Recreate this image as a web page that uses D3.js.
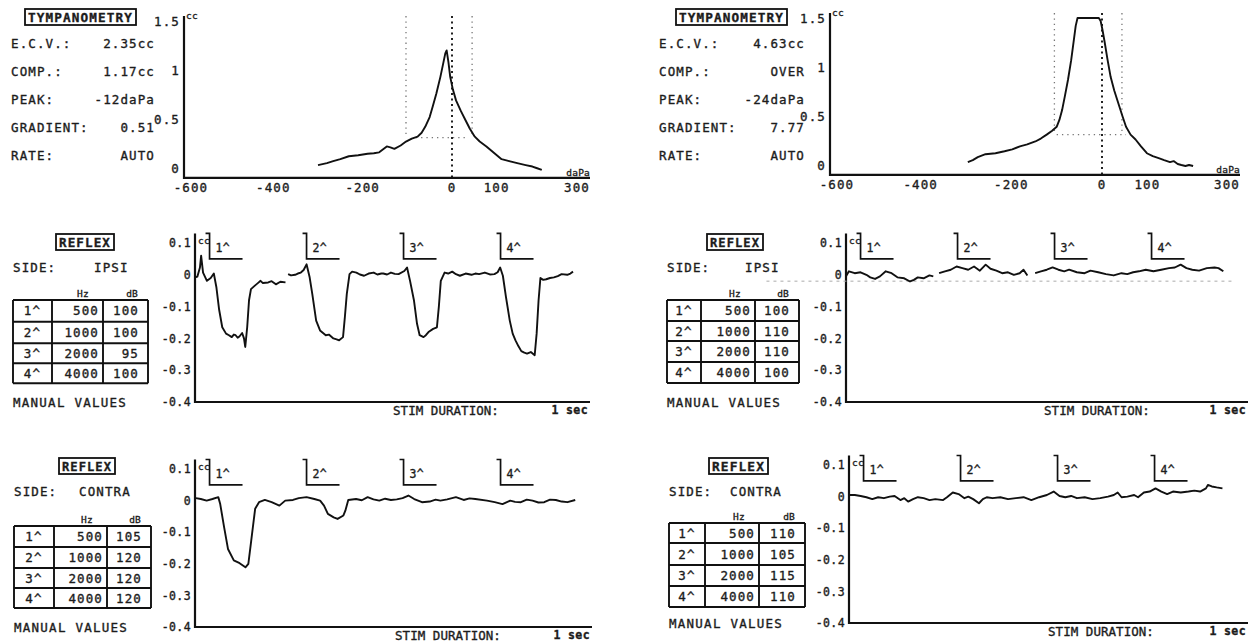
<!DOCTYPE html>
<html lang="en">
<head>
<meta charset="UTF-8">
<title>Tympanometry / Reflex printout</title>
<style>
  html, body { margin: 0; background: #fff; }
  svg { display: block; }
  text { font-family: "DejaVu Sans Mono", "Liberation Mono", monospace; fill: #1c1c1c; stroke: #1c1c1c; stroke-width: 0.35px; font-size: 12.5px; letter-spacing: 1.1px; }
  .tick { font-size: 11.5px; letter-spacing: 0.4px; }
  .small { font-size: 9.5px; letter-spacing: 0.2px; }
  .axis { stroke: #111; stroke-width: 2.2; fill: none; }
  .trace { stroke: #111; stroke-width: 1.9; fill: none; stroke-linejoin: round; }
  .grid { stroke: #111; stroke-width: 1.9; }
  .dot { stroke: #777; stroke-width: 1.3; stroke-dasharray: 1.3 4; fill: none; }
  .dot0 { stroke: #222; stroke-width: 2; stroke-dasharray: 2 3.5; fill: none; }
  .noise { stroke: #aaa; stroke-width: 1; stroke-dasharray: 3 4; fill: none; }
</style>
</head>
<body>
<svg id="chart" width="1250" height="641"></svg>
<script src="https://d3js.org/d3.v7.min.js"></script>
<script>
// ---- data ----
const tympTicksX = [-600, -400, -200, 0, 100, 300];
const tympTicksY = [0, 0.5, 1, 1.5];
const reflexTicksY = [0.1, 0, -0.1, -0.2, -0.3, -0.4];
const infoLabels = ["E.C.V.:", "COMP.:", "PEAK:", "GRADIENT:", "RATE:"];
const leftInfo = ["2.35cc", "1.17cc", "-12daPa", "0.51", "AUTO"];
const rightInfo = ["4.63cc", "OVER", "-24daPa", "7.77", "AUTO"];
const stimLabels = ["1^", "2^", "3^", "4^"];
const stimOnsets = [0.15, 1.15, 2.15, 3.15];
const freqs = [500, 1000, 2000, 4000];
const leftIpsiDb = [100, 100, 95, 100];
const leftContraDb = [105, 120, 120, 120];
const rightIpsiDb = [100, 110, 110, 100];
const rightContraDb = [110, 105, 115, 110];

// tympanograms: [daPa, cc]
const leftTymp = [[-300,0.03],[-280,0.05],[-266,0.07],[-250,0.09],[-231,0.12],[-210,0.13],[-189,0.145],[-175,0.15],[-163,0.16],[-146,0.22],[-138,0.21],[-129,0.195],[-115,0.23],[-103,0.27],[-90,0.3],[-77,0.32],[-68,0.36],[-60,0.42],[-50,0.52],[-43,0.63],[-35,0.76],[-26,0.93],[-20,1.06],[-15,1.17],[-12,1.2],[-8,1.08],[-4,0.93],[2,0.8],[9,0.69],[20,0.58],[30,0.49],[40,0.4],[51,0.32],[62,0.27],[77,0.22],[95,0.15],[111,0.09],[128,0.07],[146,0.05],[165,0.03],[180,0.015],[189,0.0],[201,-0.02]];
const rightTymp = [[-296,0.03],[-285,0.05],[-274,0.08],[-257,0.11],[-235,0.12],[-215,0.14],[-198,0.16],[-181,0.19],[-165,0.21],[-147,0.24],[-135,0.27],[-122,0.31],[-110,0.35],[-100,0.39],[-94,0.46],[-88,0.56],[-82,0.7],[-75,0.87],[-68,1.07],[-62,1.28],[-58,1.42],[-54,1.5],[-7,1.5],[-3,1.47],[1,1.38],[6,1.25],[12,1.08],[19,0.9],[27,0.76],[36,0.63],[45,0.5],[53,0.39],[63,0.31],[74,0.26],[86,0.19],[99,0.12],[112,0.09],[125,0.07],[137,0.05],[150,0.03],[158,0.04],[167,0.01],[175,0.0],[184,-0.01],[192,0.0],[201,-0.01]];
const leftGuides = [-103, 45], leftLevel = 0.31, leftLevelSpan = [-81, 30];
const rightGuides = [-105, 44], rightLevel = 0.31, rightLevelSpan = [-100, 53];

// reflex traces: [time (s), cc], split where the pen lifted
const leftIpsi = [
  [[0.004,-0.008],[0.024,-0.006],[0.051,0.023],[0.063,0.06],[0.083,0.007],[0.123,-0.019],[0.162,-0.01],[0.194,0.004],[0.221,-0.04],[0.249,-0.11],[0.281,-0.165],[0.32,-0.185],[0.35,-0.19],[0.379,-0.196],[0.40,-0.188],[0.419,-0.19],[0.44,-0.198],[0.458,-0.194],[0.486,-0.183],[0.505,-0.2],[0.518,-0.227],[0.538,-0.165],[0.557,-0.08],[0.577,-0.045],[0.617,-0.034],[0.645,-0.027],[0.676,-0.019],[0.70,-0.026],[0.755,-0.024],[0.79,-0.02],[0.834,-0.03],[0.88,-0.022],[0.933,-0.024]],
  [[0.96,0.002],[0.99,-0.002],[1.032,0],[1.06,0.004],[1.091,0.007],[1.12,0.015],[1.15,0.033],[1.182,-0.008],[1.209,-0.06],[1.249,-0.144],[1.289,-0.175],[1.32,-0.183],[1.348,-0.19],[1.38,-0.188],[1.427,-0.2],[1.46,-0.203],[1.486,-0.206],[1.526,-0.196],[1.545,-0.133],[1.565,-0.06],[1.593,0.002],[1.62,0.01],[1.664,0.007],[1.70,0.001],[1.743,-0.003],[1.79,0.004],[1.842,0.007],[1.88,0.001],[1.921,0.004],
   [1.941,0.004],[1.98,0.001],[2.02,0.007],[2.06,0.003],[2.099,0.002],[2.158,0.012],[2.186,0.023],[2.217,-0.019],[2.257,-0.08],[2.289,-0.154],[2.316,-0.19],[2.356,-0.196],[2.38,-0.19],[2.407,-0.18],[2.455,-0.17],[2.494,-0.165],[2.514,-0.1],[2.534,-0.019],[2.573,0.007],[2.61,0.004],[2.652,0.01],[2.69,0.002],[2.731,-0.003],[2.79,0.004],[2.85,0],[2.89,0.004],[2.929,0.002],
   [2.988,0.007],[3.04,0.001],[3.087,0.002],[3.12,0.008],[3.146,0.023],[3.174,-0.003],[3.206,-0.07],[3.245,-0.144],[3.275,-0.185],[3.304,-0.206],[3.335,-0.225],[3.364,-0.24],[3.395,-0.245],[3.423,-0.248],[3.462,-0.243],[3.502,-0.253],[3.522,-0.185],[3.542,-0.08],[3.561,-0.01],[3.59,-0.016],[3.621,-0.014],[3.66,-0.01],[3.70,-0.008],[3.74,-0.004],[3.779,0.002],[3.838,0],[3.87,0.004],[3.897,0.01]]
];
const leftContra = [
  [[0.01,0.008],[0.06,0.005],[0.12,0],[0.18,0.005],[0.24,0.011],[0.26,-0.011],[0.30,-0.084],[0.34,-0.153],[0.40,-0.189],[0.46,-0.198],[0.52,-0.211],[0.55,-0.2],[0.58,-0.126],[0.62,-0.026],[0.66,-0.005],[0.72,0.002],[0.79,-0.005],[0.87,-0.016],[0.93,0],[1.01,0.002],[1.07,0.008],[1.15,0.011],[1.23,0.005],[1.29,0],[1.33,-0.016],[1.37,-0.042],[1.43,-0.053],[1.47,-0.058],[1.53,-0.047],[1.55,-0.032],[1.58,0.002],[1.66,0.005],[1.72,0.001],[1.78,0.011],[1.84,0.004],[1.90,0],[1.96,0.006],[2.02,0.002],[2.08,0.004],[2.14,0.008],[2.20,0.016],[2.26,0.005],[2.34,-0.005],[2.42,-0.003],[2.48,0.003],[2.53,0],[2.60,0.004],[2.69,0.011],[2.77,0.002],[2.83,0.007],[2.89,0.005],[3.01,0],[3.09,-0.005],[3.17,-0.011],[3.25,0],[3.30,-0.004],[3.36,-0.005],[3.42,0.003],[3.48,0],[3.54,-0.006],[3.60,-0.005],[3.66,0.003],[3.72,0.002],[3.78,-0.003],[3.84,-0.005],[3.92,0.002]]
];
const rightIpsi = [
  [[0,-0.005],[0.03,0.011],[0.09,0.005],[0.15,0.008],[0.21,0],[0.25,-0.008],[0.30,-0.013],[0.35,-0.005],[0.41,0.011],[0.47,0.005],[0.53,-0.008],[0.60,-0.011],[0.66,-0.021],[0.70,-0.016],[0.74,-0.008],[0.80,-0.011],[0.86,-0.002],[0.90,-0.005]],
  [[0.96,0.005],[1.02,0.011],[1.08,0.016],[1.14,0.026],[1.20,0.021],[1.26,0.016],[1.32,0.026],[1.38,0.013],[1.44,0.032],[1.49,0.019],[1.55,0.013],[1.61,0.005],[1.67,0.008],[1.73,0],[1.79,0.005],[1.83,0.016],[1.87,-0.002]],
  [[1.95,0.005],[2.01,0.011],[2.07,0.016],[2.13,0.023],[2.19,0.016],[2.25,0.011],[2.30,0.016],[2.38,0.008],[2.46,0.005],[2.52,0.013],[2.60,0.008],[2.68,0.002],[2.76,-0.002],[2.84,0.005],[2.90,0.002],[2.96,0.008],[3.02,0.011],[3.09,0.016],[3.17,0.011],[3.25,0.016],[3.33,0.021],[3.39,0.023],[3.45,0.032],[3.51,0.021],[3.57,0.016],[3.64,0.013],[3.72,0.021],[3.80,0.023],[3.84,0.021],[3.89,0.011]]
];
const rightContra = [
  [[0.01,0.005],[0.06,0.005],[0.12,0.002],[0.18,-0.002],[0.24,-0.008],[0.30,-0.002],[0.36,-0.005],[0.42,0],[0.47,0.002],[0.53,-0.011],[0.57,-0.005],[0.61,-0.016],[0.66,-0.008],[0.71,-0.002],[0.77,-0.005],[0.83,-0.011],[0.89,-0.008],[0.97,-0.011],[1.01,-0.002],[1.07,0.013],[1.13,0.008],[1.19,-0.005],[1.23,0],[1.28,-0.008],[1.34,-0.021],[1.38,-0.008],[1.42,-0.002],[1.48,-0.005],[1.56,-0.002],[1.64,-0.008],[1.72,-0.005],[1.80,-0.002],[1.88,-0.011],[1.96,-0.002],[2.04,0.005],[2.11,0.016],[2.17,0.002],[2.23,-0.002],[2.29,0.002],[2.35,-0.005],[2.43,-0.002],[2.51,-0.008],[2.59,-0.005],[2.67,0],[2.73,0.005],[2.77,0.013],[2.81,-0.002],[2.87,0],[2.94,0.005],[2.98,-0.002],[3.04,0.013],[3.10,0.016],[3.16,0.026],[3.22,0.016],[3.28,0.008],[3.34,0.016],[3.42,0.013],[3.50,0.016],[3.56,0.019],[3.62,0.016],[3.68,0.026],[3.70,0.037],[3.74,0.032],[3.79,0.029],[3.85,0.026]]
];

// ---- drawing ----
const svg = d3.select("#chart");

function txt(x, y, s, cls, anchor) {
  const t = svg.append("text").attr("x", x).attr("y", y).attr("dy", "0.36em").text(s);
  if (cls) t.attr("class", cls);
  if (anchor) t.attr("text-anchor", anchor);
  return t;
}

function boxLabel(x1, x2, y, s) {
  svg.append("rect").attr("x", x1).attr("y", y - 8).attr("width", x2 - x1).attr("height", 16)
    .attr("fill", "none").attr("stroke", "#111").attr("stroke-width", 1.8);
  txt((x1 + x2) / 2, y, s, null, "middle").attr("font-weight", "bold")
    .attr("textLength", x2 - x1 - 6).attr("lengthAdjust", "spacingAndGlyphs");
}

function drawTymp(p) {
  const x = d3.scaleLinear([-600, 300], p.xr);
  const y = d3.scaleLinear([0, 1.5], p.yr);

  boxLabel(p.box[0], p.box[1], 17, "TYMPANOMETRY");
  infoLabels.forEach((l, i) => {
    txt(p.infoX, 43 + 28 * i, l);
    txt(p.valX, 43 + 28 * i, p.info[i], null, "end");
  });

  p.guides.forEach(g => svg.append("line").attr("class", "dot")
    .attr("x1", x(g)).attr("x2", x(g)).attr("y1", y(1.55)).attr("y2", y(p.level)));
  svg.append("line").attr("class", "dot")
    .attr("x1", x(p.span[0])).attr("x2", x(p.span[1])).attr("y1", y(p.level)).attr("y2", y(p.level));
  svg.append("line").attr("class", "dot0")
    .attr("x1", x(0)).attr("x2", x(0)).attr("y1", y(1.55)).attr("y2", y(-0.1));

  svg.append("path").attr("class", "axis")
    .attr("d", `M${x(-600)},${y(1.55)}V${y(-0.1)}H${p.axisEnd}`);

  tympTicksY.forEach(v => txt(x(-600) - 4, y(v), String(v), null, "end"));
  txt(x(-600) + 2, y(1.5) - 5, "cc", "small");
  tympTicksX.forEach((v, i) => {
    const last = i === tympTicksX.length - 1;
    txt(last ? p.axisEnd : x(v) + (i === 0 ? 7 : 0), y(-0.1) + 10, String(v), null, last ? "end" : "middle");
  });
  txt(p.axisEnd, y(-0.1) - 5, "daPa", "small", "end");

  svg.append("path").attr("class", "trace").datum(p.curve)
    .attr("d", d3.line().x(d => x(d[0])).y(d => y(d[1])));
}

function drawReflex(p) {
  const x = d3.scaleLinear([0, 1], [p.x0, p.x0 + 97]);
  const y = d3.scaleLinear([0.1, -0.4], p.yr);

  // header block
  boxLabel(p.box[0], p.box[1], p.boxY, "REFLEX");
  txt(p.tx[0], p.boxY + 25, "SIDE:");
  txt(p.sideX, p.boxY + 25, p.side);

  // table
  const tx = p.tx, ty = p.ty;
  ty.forEach(v => svg.append("line").attr("class", "grid")
    .attr("x1", tx[0]).attr("x2", tx[3]).attr("y1", v).attr("y2", v));
  tx.forEach(v => svg.append("line").attr("class", "grid")
    .attr("x1", v).attr("x2", v).attr("y1", ty[0]).attr("y2", ty[4]));
  txt(tx[2] - 20, ty[0] - 6, "Hz", "small", "middle");
  txt(tx[3] - 10, ty[0] - 6, "dB", "small", "end");
  freqs.forEach((f, i) => {
    const cy = (ty[i] + ty[i + 1]) / 2;
    txt((tx[0] + tx[1]) / 2, cy, stimLabels[i], null, "middle");
    txt(tx[2] - 4, cy, String(f), null, "end");
    txt(tx[3] - 9, cy, String(p.db[i]), null, "end");
  });
  txt(tx[0], p.yr[1], "MANUAL VALUES").attr("textLength", 114).attr("lengthAdjust", "spacing");

  // axes
  svg.append("path").attr("class", "axis")
    .attr("d", `M${x(0)},${y(0.13)}V${y(-0.4)}H${p.axisEnd}`);
  reflexTicksY.forEach(v => txt(x(0) - 4, y(v), String(v), "tick", "end"));
  txt(x(0) + 3, y(0.1) - 2, "cc", "small");
  txt(p.stimX, y(-0.4) + 8, "STIM DURATION:").attr("textLength", 107).attr("lengthAdjust", "spacing");
  txt(p.axisEnd - 2, y(-0.4) + 8, "1 sec", "tick", "end").attr("font-weight", "bold");

  // stimulus markers
  stimOnsets.forEach((t, i) => {
    svg.append("path").attr("fill", "none").attr("stroke", "#111").attr("stroke-width", 1.7)
      .attr("d", `M${x(t) - 4},${y(0.13)}H${x(t)}V${y(0.05)}H${x(t + 0.34)}`);
    txt(x(t) + 6, y(0.085), stimLabels[i], "tick");
  });

  if (p.noise) {
    svg.append("line").attr("class", "noise")
      .attr("x1", x(p.noise[0])).attr("x2", x(p.noise[1])).attr("y1", y(p.noise[2])).attr("y2", y(p.noise[2]));
  }

  const line = d3.line().x(d => x(d[0])).y(d => y(d[1]));
  p.trace.forEach(seg => svg.append("path").attr("class", "trace").datum(seg).attr("d", line));
}

drawTymp({ xr: [184, 586], yr: [168, 21], axisEnd: 590, box: [25, 136], infoX: 11, valX: 155,
  info: leftInfo, guides: leftGuides, level: leftLevel, span: leftLevelSpan, curve: leftTymp });
drawTymp({ xr: [830, 1238], yr: [165, 18], axisEnd: 1240, box: [676, 787], infoX: 659, valX: 805,
  info: rightInfo, guides: rightGuides, level: rightLevel, span: rightLevelSpan, curve: rightTymp });

drawReflex({ x0: 195, yr: [243, 402], axisEnd: 590, box: [56, 114], boxY: 242, side: "IPSI", sideX: 94,
  tx: [13, 52, 103, 148], ty: [300, 321.7, 343.3, 363.3, 383.3], db: leftIpsiDb, stimX: 393, trace: leftIpsi });
drawReflex({ x0: 195, yr: [469, 627], axisEnd: 592, box: [59, 115], boxY: 466, side: "CONTRA", sideX: 79,
  tx: [14, 54, 107, 151], ty: [526, 547, 568, 588, 608], db: leftContraDb, stimX: 395, trace: leftContra });
drawReflex({ x0: 846, yr: [243, 402], axisEnd: 1248, box: [707, 763], boxY: 242, side: "IPSI", sideX: 745,
  tx: [667, 701, 755, 799], ty: [300, 321, 341, 362, 383], db: rightIpsiDb, stimX: 1044, trace: rightIpsi,
  noise: [-0.82, 4.0, -0.02] });
drawReflex({ x0: 849, yr: [465, 623], axisEnd: 1248, box: [709, 768], boxY: 466, side: "CONTRA", sideX: 730,
  tx: [669, 705, 759, 805], ty: [523, 543, 565, 586, 607], db: rightContraDb, stimX: 1048, trace: rightContra });
</script>
</body>
</html>
